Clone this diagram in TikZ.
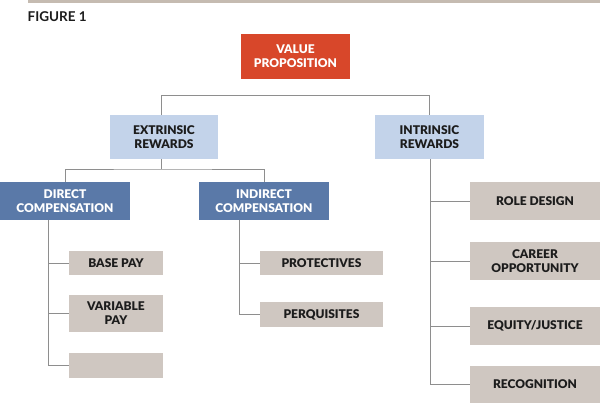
\documentclass[tikz,border=0pt]{standalone}
\usepackage{fontspec}
\setmainfont{Lato}[BoldFont={Lato Black}]
\newfontfamily\figfont{Lato}
\definecolor{vpred}{HTML}{D8472A}
\definecolor{lblue}{HTML}{C3D3EA}
\definecolor{dblue}{HTML}{5A79A8}
\definecolor{tan}{HTML}{CFC7C1}
\definecolor{bartan}{HTML}{C5BBB1}
\definecolor{linegray}{HTML}{8E8E8E}
\definecolor{txt}{HTML}{1C1C1C}
\tikzset{
  base/.style={rectangle, inner sep=0pt, align=center, font=\bfseries\fontsize{12}{14}\selectfont},
  vpbox/.style={base, fill=vpred, text=white, minimum width=109pt, minimum height=45pt},
  lbbox/.style={base, fill=lblue, text=txt, minimum width=108pt, minimum height=44pt},
  dbbox/.style={base, fill=dblue, text=white, minimum width=130pt, minimum height=38pt},
  tanbox/.style={base, fill=tan, text=txt},
  conn/.style={draw=linegray, line width=1pt},
}
\begin{document}
\begin{tikzpicture}[x=1pt,y=-1pt]
\useasboundingbox (0,0) rectangle (600,404);
\fill[white] (0,0) rectangle (600,404);
\fill[bartan] (28,0) rectangle (600,3);
\node[anchor=west, inner sep=0pt, text=txt, font=\figfont\bfseries\fontsize{13.5}{15}\selectfont] (fig) at (27.5,17) {FIGURE 1};

\node[vpbox] (vp) at (295.5,56.5) {VALUE\\PROPOSITION};
\node[lbbox] (ext) at (164,137) {EXTRINSIC\\REWARDS};
\node[lbbox, minimum width=109pt] (int) at (429.5,137) {INTRINSIC\\REWARDS};
\node[dbbox] (dir) at (65,201) {DIRECT\\COMPENSATION};
\node[dbbox] (ind) at (264,201) {INDIRECT\\COMPENSATION};

\node[tanbox, minimum width=94pt, minimum height=24pt] (base) at (116,263) {BASE PAY};
\node[tanbox, minimum width=94pt, minimum height=37pt] (var) at (116,313.5) {VARIABLE\\PAY};
\node[tanbox, minimum width=94pt, minimum height=25pt] (blank) at (116,365.5) {};
\node[tanbox, minimum width=123pt, minimum height=24pt] (prot) at (321.5,263) {PROTECTIVES};
\node[tanbox, minimum width=123pt, minimum height=25pt] (perq) at (321.5,314.5) {PERQUISITES};
\node[tanbox, minimum width=130pt, minimum height=38pt] (role) at (535,201) {ROLE DESIGN};
\node[tanbox, minimum width=130pt, minimum height=38pt] (career) at (535,261) {CAREER\\OPPORTUNITY};
\node[tanbox, minimum width=130pt, minimum height=38pt] (equity) at (535,326) {EQUITY/JUSTICE};
\node[tanbox, minimum width=130pt, minimum height=37pt] (recog) at (535,384.5) {RECOGNITION};

% top split (extrinsic / intrinsic)
\coordinate (j0) at (161,95.5);
\draw[conn] (ext.north -| j0) -- (j0) -| (int.north);
% extrinsic split
\coordinate (j1) at (161,169);
\draw[conn] (ext.south -| j1) -- (j1);
\draw[conn] (dir.north) |- (j1) -| (ind.north);
% direct children
\coordinate (d0) at (48,220);
\draw[conn] (d0) |- (blank.west);
\draw[conn] (d0 |- base.west) -- (base.west);
\draw[conn] (d0 |- var.west) -- (var.west);
% indirect children
\coordinate (i0) at (239,220);
\draw[conn] (i0) |- (perq.west);
\draw[conn] (i0 |- prot.west) -- (prot.west);
% intrinsic children
\coordinate (n0) at (430,159);
\draw[conn] (n0) |- (recog.west);
\draw[conn] (n0 |- role.west) -- (role.west);
\draw[conn] (n0 |- career.west) -- (career.west);
\draw[conn] (n0 |- equity.west) -- (equity.west);
\end{tikzpicture}
\end{document}
